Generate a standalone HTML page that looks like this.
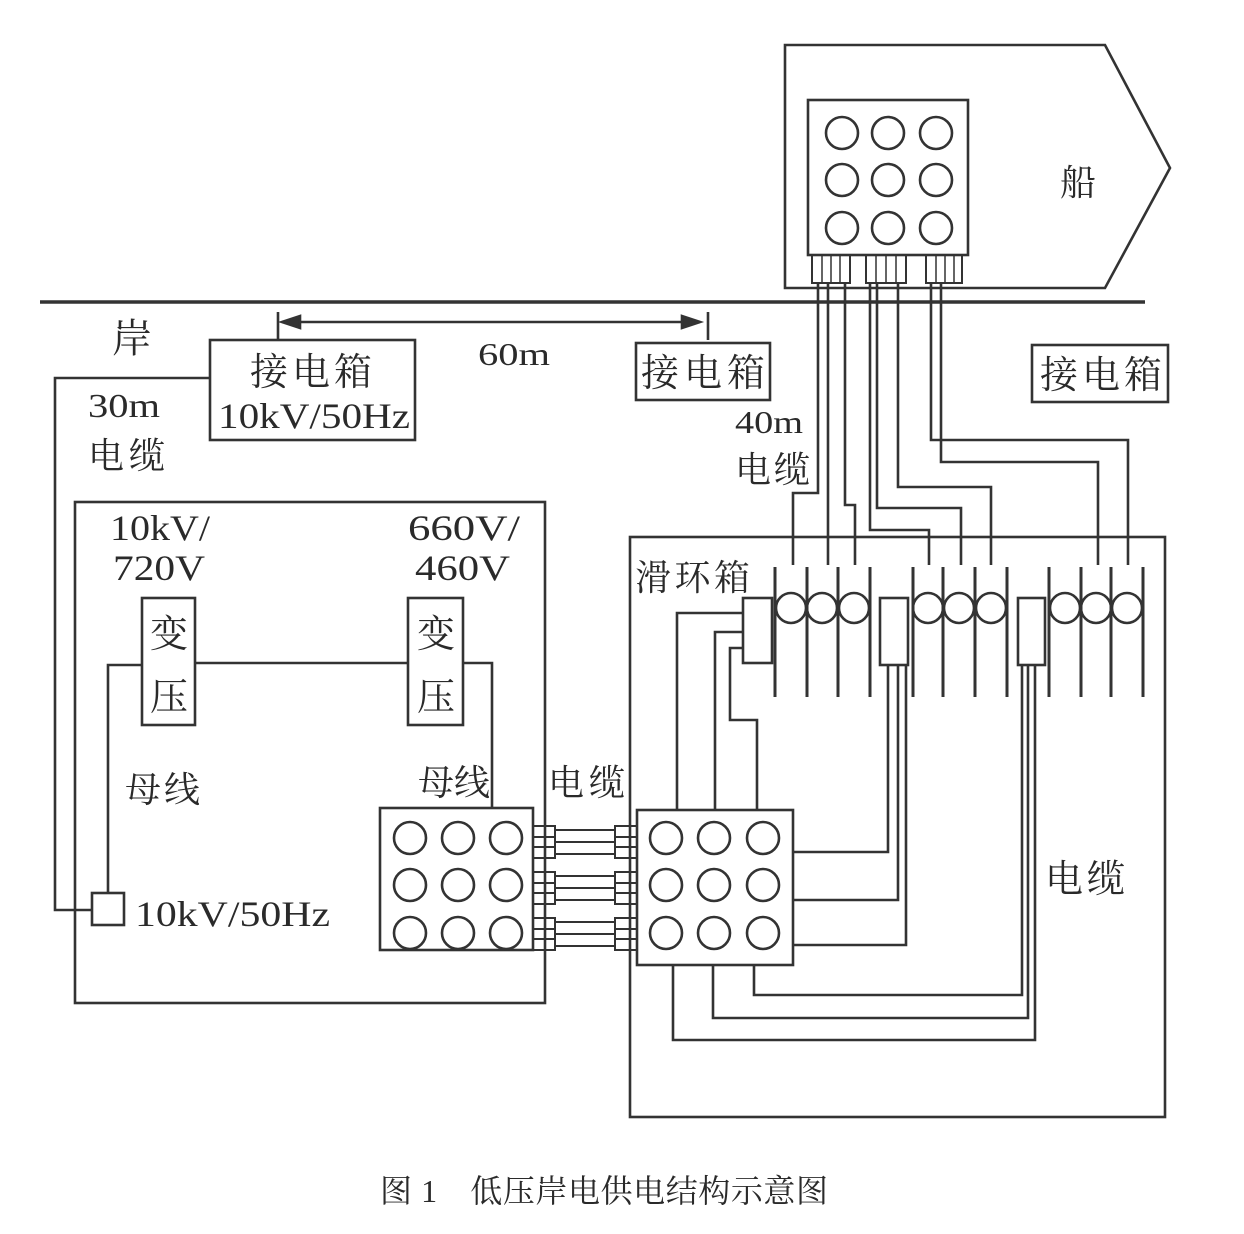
<!DOCTYPE html>
<html><head><meta charset="utf-8"><style>
html,body{margin:0;padding:0;background:#fff;}
svg{display:block;}
text{font-family:"Liberation Serif","Noto Serif CJK SC",serif;fill:#2a2a2a;}
</style></head><body>
<svg width="1244" height="1234" viewBox="0 0 1244 1234" xmlns="http://www.w3.org/2000/svg">
<g fill="none" stroke="#333" stroke-width="2.6">
<polygon points="785,45 1105,45 1170,168 1105,288 785,288"/>
<rect x="808" y="100" width="160" height="155"/>
<g>
<circle cx="842" cy="133" r="16"/><circle cx="888" cy="133" r="16"/><circle cx="936" cy="133" r="16"/>
<circle cx="842" cy="180" r="16"/><circle cx="888" cy="180" r="16"/><circle cx="936" cy="180" r="16"/>
<circle cx="842" cy="228" r="16"/><circle cx="888" cy="228" r="16"/><circle cx="936" cy="228" r="16"/>
</g>
<rect x="812" y="255" width="38" height="28" stroke-width="2"/>
<rect x="866" y="255" width="40" height="28" stroke-width="2"/>
<rect x="926" y="255" width="36" height="28" stroke-width="2"/>
<path d="M822 255V283M831 255V283M840 255V283M876 255V283M886 255V283M896 255V283M936 255V283M945 255V283M954 255V283" stroke-width="1.5"/>
<path d="M40 302H1145" stroke-width="3.5"/>
<path d="M278 312V340M708 312V340M282 322H700"/>
<polygon points="282,322 300,316 300,328" fill="#333"/>
<polygon points="700,322 682,316 682,328" fill="#333"/>
<rect x="210" y="340" width="205" height="100"/>
<rect x="636" y="343" width="134" height="57"/>
<rect x="1032" y="345" width="136" height="57"/>
<path d="M210 378H55V910H92"/>
<rect x="92" y="893" width="32" height="32"/>
<rect x="75" y="502" width="470" height="501"/>
<rect x="142" y="598" width="53" height="127"/>
<rect x="408" y="598" width="55" height="127"/>
<path d="M108 893V665H142M195 663H408M463 663H492V808"/>
<rect x="380" y="808" width="153" height="142"/>
<rect x="637" y="810" width="156" height="155"/>
<g>
<circle cx="410" cy="838" r="16"/><circle cx="458" cy="838" r="16"/><circle cx="506" cy="838" r="16"/>
<circle cx="410" cy="885" r="16"/><circle cx="458" cy="885" r="16"/><circle cx="506" cy="885" r="16"/>
<circle cx="410" cy="933" r="16"/><circle cx="458" cy="933" r="16"/><circle cx="506" cy="933" r="16"/>
<circle cx="666" cy="838" r="16"/><circle cx="714" cy="838" r="16"/><circle cx="763" cy="838" r="16"/>
<circle cx="666" cy="885" r="16"/><circle cx="714" cy="885" r="16"/><circle cx="763" cy="885" r="16"/>
<circle cx="666" cy="933" r="16"/><circle cx="714" cy="933" r="16"/><circle cx="763" cy="933" r="16"/>
</g>
<g stroke-width="2">
<rect x="533" y="826" width="22" height="32"/><rect x="615" y="826" width="22" height="32"/>
<rect x="533" y="872" width="22" height="32"/><rect x="615" y="872" width="22" height="32"/>
<rect x="533" y="918" width="22" height="32"/><rect x="615" y="918" width="22" height="32"/>
<path d="M533 837H555M533 847H555M615 837H637M615 847H637M533 883H555M533 893H555M615 883H637M615 893H637M533 929H555M533 939H555M615 929H637M615 939H637"/>
<path d="M555 830H615M555 842H615M555 854H615M555 876H615M555 888H615M555 900H615M555 922H615M555 934H615M555 946H615"/>
</g>
<rect x="630" y="537" width="535" height="580"/>
<g stroke-width="3">
<path d="M775 567V697M807 567V697M838 567V697M870 567V697M913 567V697M943 567V697M975 567V697M1007 567V697M1049 567V697M1081 567V697M1111 567V697M1143 567V697"/>
</g>
<g>
<circle cx="791" cy="608" r="15"/><circle cx="822" cy="608" r="15"/><circle cx="854" cy="608" r="15"/>
<circle cx="928" cy="608" r="15"/><circle cx="959" cy="608" r="15"/><circle cx="991" cy="608" r="15"/>
<circle cx="1065" cy="608" r="15"/><circle cx="1096" cy="608" r="15"/><circle cx="1127" cy="608" r="15"/>
</g>
<rect x="743" y="598" width="29" height="65" fill="#fff"/>
<rect x="880" y="598" width="28" height="67" fill="#fff"/>
<rect x="1018" y="598" width="27" height="67" fill="#fff"/>
<path d="M818 283V493H793V565M828 283V565M845 283V505H855V565"/>
<path d="M870 283V530H929V565M877 283V508H961V565M898 283V487H991V565"/>
<path d="M931 283V440H1128V565M941 283V462H1098V565"/>
<path d="M743 613H677V810M743 632H715V810M743 648H730V720H757V810"/>
<path d="M793 852H888V665M793 900H898V665M793 945H906V665"/>
<path d="M673 965V1040H1035V665M713 965V1018H1028V665M754 965V995H1022V665" />
</g>
<g font-size="36">
<text x="1060" y="195" textLength="40">船</text>
<text x="112" y="352" font-size="40" textLength="48">岸</text>
<text x="478" y="365" font-size="32" textLength="72" lengthAdjust="spacingAndGlyphs">60m</text>
<text x="250" y="385" font-size="38" textLength="122">接电箱</text>
<text x="218" y="428" textLength="192" lengthAdjust="spacingAndGlyphs">10kV/50Hz</text>
<text x="641" y="386" font-size="38" textLength="124">接电箱</text>
<text x="1040" y="388" font-size="38" textLength="122">接电箱</text>
<text x="735" y="433" font-size="32" textLength="68" lengthAdjust="spacingAndGlyphs">40m</text>
<text x="735" y="482" textLength="75">电缆</text>
<text x="88" y="417" font-size="34" textLength="72" lengthAdjust="spacingAndGlyphs">30m</text>
<text x="88" y="468" textLength="77">电缆</text>
<text x="110" y="540" textLength="100" lengthAdjust="spacingAndGlyphs">10kV/</text>
<text x="113" y="580" textLength="92" lengthAdjust="spacingAndGlyphs">720V</text>
<text x="408" y="540" textLength="112" lengthAdjust="spacingAndGlyphs">660V/</text>
<text x="415" y="580" textLength="95" lengthAdjust="spacingAndGlyphs">460V</text>
<text x="150" y="647" font-size="38">变</text>
<text x="150" y="710" font-size="38">压</text>
<text x="417" y="647" font-size="38">变</text>
<text x="417" y="710" font-size="38">压</text>
<text x="635" y="590" textLength="115">滑环箱</text>
<text x="125" y="802" textLength="75">母线</text>
<text x="418" y="795" textLength="72">母线</text>
<text x="548" y="795" textLength="77">电缆</text>
<text x="135" y="926" textLength="195" lengthAdjust="spacingAndGlyphs">10kV/50Hz</text>
<text x="1045" y="892" font-size="38" textLength="80">电缆</text>
<text x="380" y="1202" font-size="32" textLength="448">图 1　低压岸电供电结构示意图</text>
</g>
</svg>
</body></html>
